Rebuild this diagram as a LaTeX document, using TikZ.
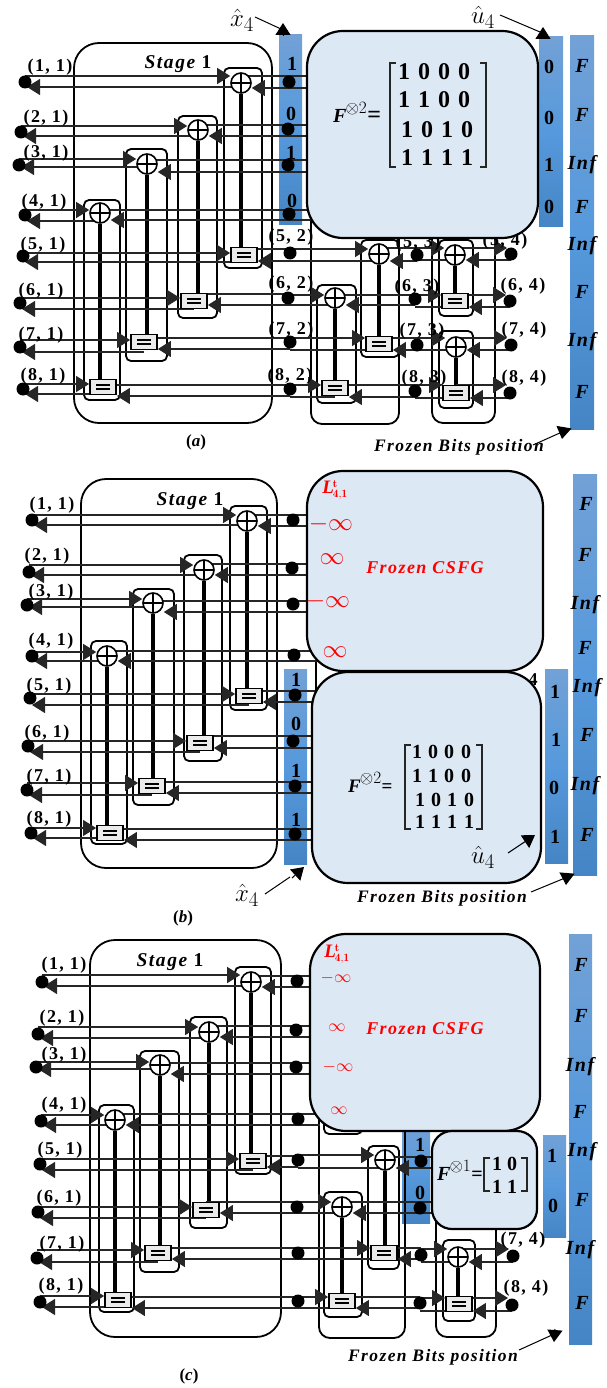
\documentclass[tikz,border=0pt]{standalone}
\usepackage{fontspec}
\usetikzlibrary{arrows.meta}
\newfontfamily\cam[LetterSpace=8]{Liberation Serif}
\definecolor{boxfill}{HTML}{DDE8F5}
\definecolor{bartop}{HTML}{72A1D6}
\definecolor{barmid}{HTML}{5699DC}
\definecolor{barlow}{HTML}{4585C5}
\pgfdeclarelayer{bars}\pgfdeclarelayer{wires}\pgfdeclarelayer{boxes}\pgfdeclarelayer{over}
\pgfsetlayers{bars,wires,main,boxes,over}
\newcount\txtn
\tikzset{
  Tp/.tip={Triangle[length=13pt,width=16pt]},
  wire/.style={line width=1.2pt,draw=black!85},
  fa/.style={-{Tp}},
  fl/.style={-{Tp},shorten >=2pt},
  fr/.style={-{Tp},shorten >=4pt},
  rail/.style={line width=3.4pt},
  frame/.style={line width=1.8pt,rounded corners=5pt},
  stagebox/.style={line width=1.8pt,rounded corners=25pt},
  subbox/.style={line width=1.8pt,rounded corners=11pt},
  bigbox/.style={line width=2.2pt,draw=black,fill=boxfill,rounded corners=36pt},
  smallbox/.style={line width=2.2pt,draw=black,fill=boxfill,rounded corners=20pt},
  bluebar/.style={top color=bartop,bottom color=barlow,middle color=barmid,draw=none},
  dotn/.style={circle,fill=black,inner sep=0pt,minimum size=13pt},
  xorn/.style={circle,draw,line width=1.6pt,fill=white,inner sep=0pt,minimum size=20pt,
    path picture={\draw[line width=1.3pt] (path picture bounding box.north)--(path picture bounding box.south)
      (path picture bounding box.west)--(path picture bounding box.east);}},
  eqn/.style={rectangle,draw,line width=1.8pt,fill=black!8,inner sep=0pt,minimum width=26pt,minimum height=15pt,
    path picture={\fill[black] ([xshift=-7pt,yshift=1pt]path picture bounding box.center) rectangle ++(14pt,2.2pt);
      \fill[black] ([xshift=-7pt,yshift=-3.2pt]path picture bounding box.center) rectangle ++(14pt,2.2pt);}},
  txt/.style={inner sep=0pt},
  lab/.style={font=\cam\bfseries\fontsize{18}{18}\selectfont},
  num/.style={font=\cam\bfseries\fontsize{20}{20}\selectfont},
  fz/.style={font=\cam\bfseries\itshape\fontsize{20}{20}\selectfont},
  stg/.style={font=\cam\bfseries\itshape\fontsize{19.5}{19.5}\selectfont},
  fzb/.style={font=\cam\bfseries\itshape\fontsize{17.5}{17.5}\selectfont},
  csfg/.style={font=\cam\bfseries\itshape\fontsize{18}{18}\selectfont,text=red},
  capt/.style={font=\cam\bfseries\fontsize{17}{17}\selectfont},
  redt/.style={text=red},
  ptr/.style={line width=1pt},
  brk/.style={line width=1.3pt,draw=black!85},
  hat/.style={font=\fontsize{28}{28}\selectfont},
}
\newcommand\Txt[4][]{\global\advance\txtn by 1\relax\node[txt,#1] (t\the\txtn) at (#2,#3) {#4};}
\newcommand\Dn[3]{\node[dotn] (#1) at (#2,#3) {};}
\newcommand\Xn[3]{\node[xorn] (#1) at (#2,#3) {};}
\newcommand\En[3]{\node[eqn] (#1) at (#2,#3) {};}
% A, gate, B, top-left y, top-right y, low-right y, low-left y, style top right, style low left
\newcommand\Seg[9]{%
  \draw[wire,fa] (#1 |- 0,#4) -- (#2.west |- 0,#4);
  \draw[wire,#8] (#2 |- 0,#5) -- (#3 |- 0,#5);
  \draw[wire,fa] (#3 |- 0,#6) -- (#2.east |- 0,#6);
  \draw[wire,#9] (#2 |- 0,#7) -- (#1 |- 0,#7);}
\newcommand\Wr[4]{\draw[wire] (#1 |- 0,#3) -- (#2 |- 0,#3); \draw[wire] (#1 |- 0,#4) -- (#2 |- 0,#4);}
\newcommand\Rl[2]{\draw[rail] (#1) -- (#1 |- #2);}
\newcommand\Pointer[5]{%
  \coordinate (#1a) at (#2); \coordinate (#1b) at (#3);
  \coordinate (#1c) at (#4); \coordinate (#1d) at (#5);
  \draw[ptr] (#1a) -- (#1b);
  \draw[ptr,-{Triangle[length=12pt,width=15pt]}] (#1c) -- (#1d);}
\newcommand\Brack[4]{%
  \draw[brk] ({#1+6},#2) -- (#1,#2) -- (#1,#4) -- ({#1+6},#4);
  \draw[brk] ({#3-6},#2) -- (#3,#2) -- (#3,#4) -- ({#3-6},#4);}
\newcommand\Frm[4]{\draw[frame] (#1,#2) rectangle (#3,#4);}
\newcommand\Ltxt{{\cam\bfseries\itshape\fontsize{19}{19}\selectfont L}\kern-1pt\fontsize{16}{16}\selectfont$^{\mathbf{t}}_{\mathbf{4,1}}$}
\newcommand\FF[4]{{\cam\bfseries\itshape\fontsize{#1}{#1}\selectfont F}\kern-1pt{\fontsize{#2}{#2}\selectfont$^{\otimes #3}$}{\cam\bfseries\fontsize{#4}{#4}\selectfont=}}
\begin{document}
\begin{tikzpicture}[x=1pt,y=-1pt]
\useasboundingbox (0,0) rectangle (607,1388);

%% ================= PANEL A ==================
\begin{pgfonlayer}{bars}
\fill[bluebar] (279,35) rectangle (302,225);
\fill[bluebar] (539,37) rectangle (563,227);
\fill[bluebar] (570,36) rectangle (594,429);
\end{pgfonlayer}
\foreach \n/\x/\y in {a1L/25/82,a2L/21/132,a3L/19/165,a4L/25/215,a5L/23/256,a6L/20/303,a7L/20/347,a8L/23/389,
  a1R/289/82,a2R/288/129,a3R/288/165,a4R/289/214,a5R/290/253,a6R/288/298,a7R/290/342,a8R/290/389,
  a5M/417/255,a6M/415/299,a7M/417/345,a8M/415/391,a5Z/511/254,a6Z/510/301,a7Z/511/345,a8Z/510/393}{\Dn{\n}{\x}{\y}}
\Xn{a1g}{241}{83}\Xn{a2g}{198}{130}\Xn{a3g}{147}{164}\Xn{a4g}{100}{213}
\En{a5g}{244}{255}\En{a6g}{194}{301}\En{a7g}{144}{342}\En{a8g}{103}{387}
\Xn{a5s}{379}{254}\Xn{a6s}{335}{298}\En{a7s}{379}{344}\En{a8s}{335}{388}
\Xn{a5t}{455}{255}\En{a6t}{455}{301}\Xn{a7t}{456}{347}\En{a8t}{456}{393}
\coordinate (aE) at (320,0);
\begin{pgfonlayer}{wires}
\draw[stagebox] (74,43) rectangle (272,423);
\draw[subbox] (311,195) rectangle (399,424);
\draw[subbox] (432,195) rectangle (495,423);
\Frm{224}{68}{262}{268}\Frm{178}{116}{217}{318}\Frm{126}{149}{167}{361}\Frm{84}{200}{120}{400}
\Frm{361}{240}{399}{357}\Frm{317}{285}{356}{403}\Frm{439}{240}{473}{316}\Frm{439}{331}{473}{408}
\Rl{a1g}{a5g}\Rl{a2g}{a6g}\Rl{a3g}{a7g}\Rl{a4g}{a8g}
\Rl{a5s}{a7s}\Rl{a6s}{a8s}\Rl{a5t}{a6t}\Rl{a7t}{a8t}
\Seg{a1L}{a1g}{a1R}{76}{76}{88}{87}{}{fl}\Wr{a1R}{aE}{76}{88}
\Seg{a2L}{a2g}{a2R}{126}{125}{136}{136}{}{fl}\Wr{a2R}{aE}{125}{136}
\Seg{a3L}{a3g}{a3R}{159}{160}{172}{167}{}{fl}\Wr{a3R}{aE}{160}{172}
\Seg{a4L}{a4g}{a4R}{210}{210}{220}{221}{}{fl}\Wr{a4R}{aE}{210}{220}
\Seg{a5L}{a5g}{a5R}{253}{249}{261}{262}{}{fl}
\Seg{a6L}{a6g}{a6R}{298}{294}{305}{309}{}{fl}
\Seg{a7L}{a7g}{a7R}{340}{338}{349}{352}{}{fl}
\Seg{a8L}{a8g}{a8R}{384}{385}{396}{394}{}{fl}
\Seg{a5R}{a5s}{a5M}{249}{248}{261}{261}{}{}
\Seg{a6R}{a6s}{a6M}{295}{295}{305}{305}{}{}
\Seg{a7R}{a7s}{a7M}{338}{338}{350}{350}{}{}
\Seg{a8R}{a8s}{a8M}{385}{385}{397}{397}{}{}
\Seg{a5M}{a5t}{a5Z}{248}{248}{260}{260}{fr}{}
\Seg{a6M}{a6t}{a6Z}{295}{295}{307}{307}{fr}{}
\Seg{a7M}{a7t}{a7Z}{338}{338}{350}{350}{fr}{}
\Seg{a8M}{a8t}{a8Z}{385}{385}{398}{398}{fr}{}
\end{pgfonlayer}
\foreach \r/\x/\y in {1/50/67,2/46/118,3/46/153,4/44/202,5/43/245,6/41/291,7/41/335,8/43/376}{\Txt[lab]{\x}{\y}{(\r, 1)}}
\foreach \r/\x/\y in {5/291/237,6/291/284,7/291/330,8/290/376}{\Txt[lab]{\x}{\y}{(\r, 2)}}
\foreach \r/\x/\y in {5/418/243,6/417/287,7/422/331,8/424/378}{\Txt[lab]{\x}{\y}{(\r, 3)}}
\foreach \r/\x/\y in {5/505/241,6/523/286,7/524/330,8/524/378}{\Txt[lab]{\x}{\y}{(\r, 4)}}
\Txt[stg]{178}{64}{Stage \upshape 1}
\foreach \t/\x/\y in {1/292/64,0/291/114,1/291/153,0/292/201,0/549/67,0/549/118,1/549/165,0/549/207}{\Txt[num]{\x}{\y}{\t}}
\foreach \t/\y in {F/66,F/115,Inf/165,F/207,Inf/246,F/292,Inf/342,F/392}{\Txt[fz]{582}{\y}{\t}}
\Txt[hat]{242}{20}{$\hat{x}_4$}
\Txt[hat]{483}{17}{$\hat{u}_4$}
\Pointer{pa}{255,17}{281,29}{283,35}{283,23}
\Pointer{pb}{500,15}{540,32}{543,38}{543,27}
\Pointer{pc}{533,445}{562,432}{564,427}{562,439}
\Txt[fzb]{459}{447}{Frozen Bits position}
\Txt[capt]{196}{442}{(\itshape a\upshape)}
\begin{pgfonlayer}{boxes}
\draw[bigbox] (307,31) rectangle (538,238);
\end{pgfonlayer}
\begin{pgfonlayer}{over}
\Txt[anchor=west]{333}{112}{\FF{20}{27}{2}{24}}
\Brack{390}{63}{486}{167}
\foreach \t/\x/\y in {1/404/72,0/424/72,0/444/72,0/464/72,
  1/404/100,1/424/100,0/444/100,0/464/100,
  1/407/130,0/427/130,1/447/130,0/467/130,
  1/407/158,1/427/158,1/447/158,1/467/158}{\Txt[font=\cam\bfseries\fontsize{24}{24}\selectfont]{\x}{\y}{\t}}
\end{pgfonlayer}

%% ================= PANEL B ==================
\begin{pgfonlayer}{bars}
\fill[bluebar] (284,669) rectangle (307,864);
\fill[bluebar] (545,669) rectangle (568,863);
\fill[bluebar] (573,474) rectangle (597,875);
\end{pgfonlayer}
\foreach \n/\x/\y in {b1L/32/520,b2L/29/572,b3L/27/605,b4L/32/656,b5L/30/698,b6L/28/746,b7L/27/790,b8L/31/833,
  b1R/293/520,b2R/292/568,b3R/293/604,b4R/294/655,b5R/295/695,b6R/293/741,b7R/295/786,b8R/295/834}{\Dn{\n}{\x}{\y}}
\Xn{b1g}{247}{521}\Xn{b2g}{204}{570}\Xn{b3g}{153}{603}\Xn{b4g}{107}{656}
\En{b5g}{249}{696}\En{b6g}{200}{743}\En{b7g}{152}{786}\En{b8g}{110}{833}
\coordinate (bE) at (320,0);
\begin{pgfonlayer}{wires}
\draw[stagebox] (81,479) rectangle (277,868);
\Frm{230}{506}{267}{710}\Frm{184}{555}{222}{761}\Frm{133}{589}{174}{805}\Frm{91}{641}{127}{844}
\Rl{b1g}{b5g}\Rl{b2g}{b6g}\Rl{b3g}{b7g}\Rl{b4g}{b8g}
\draw[line width=1.5pt] (300,661) -- (316,661) -- (316,690);
\Seg{b1L}{b1g}{b1R}{515}{515}{526}{525}{}{fl}\Wr{b1R}{bE}{515}{526}
\Seg{b2L}{b2g}{b2R}{565}{564}{575}{575}{}{fl}\Wr{b2R}{bE}{564}{575}
\Seg{b3L}{b3g}{b3R}{599}{601}{612}{607}{}{fl}\Wr{b3R}{bE}{601}{612}
\Seg{b4L}{b4g}{b4R}{652}{651}{661}{661}{}{fl}\Wr{b4R}{bE}{651}{661}
\Seg{b5L}{b5g}{b5R}{694}{691}{702}{705}{}{fl}\Wr{b5R}{bE}{691}{702}
\Seg{b6L}{b6g}{b6R}{741}{736}{748}{752}{}{fl}\Wr{b6R}{bE}{736}{748}
\Seg{b7L}{b7g}{b7R}{783}{782}{793}{795}{}{fl}\Wr{b7R}{bE}{782}{793}
\Seg{b8L}{b8g}{b8R}{828}{829}{840}{838}{}{fl}\Wr{b8R}{bE}{829}{840}
\end{pgfonlayer}
\foreach \r/\x/\y in {1/52/505,2/47/556,3/51/592,4/51/641,5/49/686,6/47/733,7/49/777,8/49/819}{\Txt[lab]{\x}{\y}{(\r, 1)}}
\Txt[stg]{190}{501}{Stage \upshape 1}
\foreach \t/\x/\y in {1/296/680,0/296/724,1/296/771,1/296/820,1/555/692,1/556/740,0/554/788,1/555/837}{\Txt[num]{\x}{\y}{\t}}
\foreach \t/\x/\y in {F/586/504,F/585/555,Inf/585/605,F/585/648,Inf/587/688,F/587/735,Inf/585/786,F/587/835}{\Txt[fz]{\x}{\y}{\t}}
\Txt[lab]{533}{680}{4}
\Txt[hat]{247}{895}{$\hat{x}_4$}
\Pointer{qa}{265,894}{290,877}{292,878}{304,867}
\Pointer{qc}{531,892}{565,878}{567,873}{566,885}
\Txt[fzb]{442}{898}{Frozen Bits position}
\Txt[capt]{183}{918}{(\itshape b\upshape)}
\begin{pgfonlayer}{boxes}
\draw[bigbox] (307,471) rectangle (543,671);
\draw[bigbox] (312,672) rectangle (541,883);
\end{pgfonlayer}
\begin{pgfonlayer}{over}
\Pointer{qb}{508,853}{523,843}{523,843}{535,835}
\Txt[hat]{483}{857}{$\hat{u}_4$}
\Txt[redt]{335}{490}{\Ltxt}
\Txt[redt]{331}{524}{\fontsize{24}{24}\selectfont$-\infty$}
\Txt[redt]{332}{559}{\fontsize{24}{24}\selectfont$\infty$}
\Txt[redt]{328}{601}{\fontsize{24}{24}\selectfont$-\infty$}
\Txt[redt]{335}{652}{\fontsize{24}{24}\selectfont$\infty$}
\Txt[csfg]{425}{568}{Frozen CSFG}
\Txt[anchor=west]{348}{782}{\FF{19}{24}{2}{19}}
\Brack{405}{745}{482}{829}
\foreach \t/\x/\y in {1/417/752,0/433/752,0/449/752,0/466/752,
  1/417/776,1/433/776,0/449/776,0/466/776,
  1/420/800,0/436/800,1/452/800,0/469/800,
  1/420/822,1/436/822,1/452/822,1/469/822}{\Txt[font=\cam\bfseries\fontsize{20}{20}\selectfont]{\x}{\y}{\t}}
\end{pgfonlayer}

%% ================= PANEL C ==================
\begin{pgfonlayer}{bars}
\fill[bluebar] (402,1125) rectangle (430,1223);
\fill[bluebar] (543,1135) rectangle (566,1237);
\fill[bluebar] (569,934) rectangle (592,1344);
\end{pgfonlayer}
\foreach \n/\x/\y in {c1L/42/982,c2L/38/1034,c3L/36/1067,c4L/41/1121,c5L/40/1164,c6L/38/1212,c7L/37/1258,c8L/40/1302,
  c1R/297/981,c2R/296/1030,c3R/296/1067,c4R/298/1119,c5R/298/1160,c6R/297/1207,c7R/298/1253,c8R/298/1301,
  c5M/421/1161,c6M/420/1208,c7M/421/1255,c8M/420/1303,c7Z/513/1256,c8Z/512/1305}{\Dn{\n}{\x}{\y}}
\Xn{c1g}{251}{982}\Xn{c2g}{209}{1032}\Xn{c3g}{160}{1065}\Xn{c4g}{115}{1120}
\En{c5g}{253}{1161}\En{c6g}{206}{1210}\En{c7g}{158}{1253}\En{c8g}{118}{1300}
\Xn{c5s}{385}{1160}\Xn{c6s}{342}{1207}\En{c7s}{384}{1253}\En{c8s}{342}{1301}
\Xn{c7t}{458}{1257}\En{c8t}{459}{1304}
\coordinate (cE) at (320,0);
\coordinate (cF) at (440,0);
\begin{pgfonlayer}{wires}
\draw[stagebox] (90,940) rectangle (281,1337);
\draw[subbox] (319,1100) rectangle (405,1338);
\draw[subbox] (436,1200) rectangle (496,1337);
\Frm{235}{967}{271}{1174}\Frm{190}{1017}{227}{1228}\Frm{140}{1051}{179}{1272}\Frm{99}{1105}{134}{1312}
\Frm{368}{1146}{399}{1269}\Frm{324}{1192}{362}{1317}\Frm{443}{1240}{475}{1321}\Frm{324}{1100}{362}{1134}
\Rl{c1g}{c5g}\Rl{c2g}{c6g}\Rl{c3g}{c7g}\Rl{c4g}{c8g}
\Rl{c5s}{c7s}\Rl{c6s}{c8s}\Rl{c7t}{c8t}
\Seg{c1L}{c1g}{c1R}{975}{976}{987}{986}{}{fl}\Wr{c1R}{cE}{976}{987}
\Seg{c2L}{c2g}{c2R}{1027}{1026}{1037}{1038}{}{fl}\Wr{c2R}{cE}{1026}{1037}
\Seg{c3L}{c3g}{c3R}{1062}{1063}{1074}{1069}{}{fl}\Wr{c3R}{cE}{1063}{1074}
\Seg{c4L}{c4g}{c4R}{1115}{1114}{1125}{1125}{}{fl}\Wr{c4R}{cE}{1114}{1125}
\Seg{c5L}{c5g}{c5R}{1159}{1156}{1167}{1170}{}{fl}
\Seg{c6L}{c6g}{c6R}{1207}{1202}{1213}{1218}{}{fl}
\Seg{c7L}{c7g}{c7R}{1250}{1248}{1259}{1262}{}{fl}
\Seg{c8L}{c8g}{c8R}{1296}{1297}{1308}{1307}{}{fl}
\Seg{c5R}{c5s}{c5M}{1155}{1157}{1168}{1168}{}{}\Wr{c5M}{cF}{1157}{1168}
\Seg{c6R}{c6s}{c6M}{1202}{1202}{1213}{1213}{}{}\Wr{c6M}{cF}{1202}{1213}
\Seg{c7R}{c7s}{c7M}{1248}{1248}{1259}{1259}{}{}
\Seg{c8R}{c8s}{c8M}{1297}{1297}{1308}{1308}{}{}
\Seg{c7M}{c7t}{c7Z}{1249}{1249}{1262}{1262}{fr}{}
\Seg{c8M}{c8t}{c8Z}{1298}{1298}{1311}{1311}{fr}{}
\end{pgfonlayer}
\foreach \r/\x/\y in {1/64/965,2/62/1018,3/64/1055,4/64/1105,5/60/1150,6/59/1198,7/62/1244,8/61/1286}{\Txt[lab]{\x}{\y}{(\r, 1)}}
\Txt[lab]{523}{1240}{(7, 4)}
\Txt[lab]{526}{1288}{(8, 4)}
\Txt[stg]{170}{962}{Stage \upshape 1}
\foreach \t/\x/\y in {1/420/1145,0/420/1193,1/552/1156,0/553/1206}{\Txt[num]{\x}{\y}{\t}}
\foreach \t/\x/\y in {F/581/965,F/581/1016,Inf/580/1067,F/580/1112,Inf/582/1152,F/582/1200,Inf/580/1250,F/582/1303}{\Txt[fz]{\x}{\y}{\t}}
\Pointer{ra}{519,1350}{552,1335}{555,1329}{554,1342}
\Txt[fzb]{433}{1357}{Frozen Bits position}
\Txt[capt]{189}{1376}{(\itshape c\upshape)}
\begin{pgfonlayer}{boxes}
\draw[bigbox] (310,934) rectangle (540,1131);
\draw[smallbox] (432,1131) rectangle (537,1229);
\end{pgfonlayer}
\begin{pgfonlayer}{over}
\Txt[redt]{337}{954}{\Ltxt}
\Txt[redt]{336}{978}{\fontsize{19}{19}\selectfont$-\infty$}
\Txt[redt]{337}{1028}{\fontsize{19}{19}\selectfont$\infty$}
\Txt[redt]{338}{1067}{\fontsize{19}{19}\selectfont$-\infty$}
\Txt[redt]{339}{1111}{\fontsize{19}{19}\selectfont$\infty$}
\Txt[csfg]{425}{1029}{Frozen CSFG}
\Txt[anchor=west]{437}{1170}{\FF{20}{25}{1}{20}}
\Brack{484}{1158}{527}{1191}
\foreach \t/\x/\y in {1/497/1164,0/512/1164,1/497/1187,1/512/1187}{\Txt[font=\cam\bfseries\fontsize{20}{20}\selectfont]{\x}{\y}{\t}}
\end{pgfonlayer}
\end{tikzpicture}
\end{document}
